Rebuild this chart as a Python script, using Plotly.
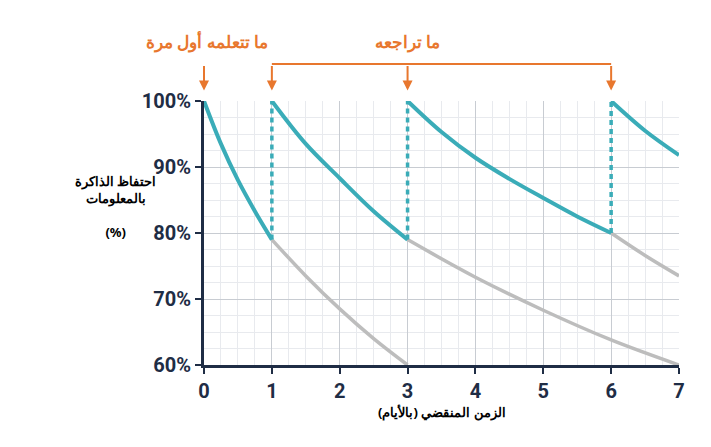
import plotly.graph_objects as go

teal = "#3aacb8"
gray = "#bdbdbd"
navy = "#1f2d45"
orange = "#e8772e"

# curve segments (days, retention %)
learn_x = [0, 0.25, 0.5, 0.75, 1]
learn_y = [100, 93.5, 88, 83.3, 79]
forget1_x = [1, 1.5, 2, 2.5, 3]
forget1_y = [79, 73.5, 68.5, 64, 60]
rev1_x = [1, 1.5, 2, 2.5, 3]
rev1_y = [100, 93.5, 88.3, 83.3, 79]
forget2_x = [3, 4, 5, 6, 7]
forget2_y = [79, 73.3, 68.3, 63.8, 60]
rev2_x = [3, 3.5, 4, 4.5, 5, 5.5, 6]
rev2_y = [100, 95.3, 91.4, 88.2, 85.3, 82.5, 80]
forget3_x = [6, 6.5, 7]
forget3_y = [80, 76.6, 73.5]
rev3_x = [6, 6.5, 7]
rev3_y = [100, 95.5, 91.8]
review_days = [1, 3, 6]
review_low = [79, 79, 80]
arrow_days = [0, 1, 3, 6]

fig = go.Figure()
for xs, ys in [(forget1_x, forget1_y), (forget2_x, forget2_y), (forget3_x, forget3_y)]:
    fig.add_trace(go.Scatter(x=xs, y=ys, mode="lines", line=dict(color=gray, width=3.5, shape="spline"), hoverinfo="skip"))
for d, lo in zip(review_days, review_low):
    fig.add_trace(go.Scatter(x=[d, d], y=[lo, 100], mode="lines", line=dict(color=teal, width=3.5, dash="5px,4px")))
for xs, ys in [(learn_x, learn_y), (rev1_x, rev1_y), (rev2_x, rev2_y), (rev3_x, rev3_y)]:
    fig.add_trace(go.Scatter(x=xs, y=ys, mode="lines", line=dict(color=teal, width=4, shape="spline")))

# arrows (x in data, y in paper)
for d in arrow_days:
    fig.add_annotation(x=d, y=1.04, xref="x", yref="paper", ax=0, ay=-26,
                       showarrow=True, arrowhead=2, arrowsize=1, arrowwidth=2, arrowcolor=orange, text="")
fig.add_shape(type="line", x0=1, x1=6, y0=1.14, y1=1.14, xref="x", yref="paper", line=dict(color=orange, width=2))
fig.add_annotation(x=0.05, y=1.225, xref="x", yref="paper", text="<b>ما تتعلمه أول مرة</b>", showarrow=False,
                   font=dict(color=orange, size=17, family="Noto Sans"), yanchor="middle")
fig.add_annotation(x=3, y=1.225, xref="x", yref="paper", text="<b>ما تراجعه</b>", showarrow=False,
                   font=dict(color=orange, size=17, family="Noto Sans"), yanchor="middle")

fig.add_annotation(xref="paper", yref="paper", x=-0.276, y=0.74, text="<b>احتفاظ الذاكرة<br>بالمعلومات<br><br>(%)</b>",
                   showarrow=False, font=dict(color="black", size=13, family="Noto Sans"), align="center")
fig.add_annotation(xref="paper", yref="paper", x=0.5, y=-0.22, text="<b>الزمن المنقضي (بالأيام)</b>",
                   showarrow=False, font=dict(color="black", size=13, family="Noto Sans"))

fig.update_layout(
    width=711, height=447, margin=dict(l=196, r=40, t=93, b=90),
    plot_bgcolor="white", paper_bgcolor="white", showlegend=False,
    xaxis=dict(range=[0, 7], dtick=1, showline=True, linecolor=navy, linewidth=3, automargin=False,
               ticks="outside", tickcolor=navy, ticklen=6, tickwidth=2,
               tickfont=dict(size=20, color=navy, family="Roboto"),
               gridcolor="#c8ccd2", gridwidth=1, zeroline=False,
               minor=dict(dtick=0.25, gridcolor="#e8eaee", showgrid=True)),
    yaxis=dict(range=[60, 100], dtick=10, showline=True, linecolor=navy, linewidth=3, automargin=False,
               ticks="outside", tickcolor=navy, ticklen=6, tickwidth=2,
               tickfont=dict(size=20, color=navy, family="Roboto"),
               gridcolor="#c8ccd2", gridwidth=1, zeroline=False,
               minor=dict(dtick=2.5, gridcolor="#e8eaee", showgrid=True)),
)
fig.update_xaxes(tickprefix="<b>", ticksuffix="</b>")
fig.update_yaxes(tickprefix="<b>", ticksuffix="%</b>")
for t in fig.data:
    t.cliponaxis = False
fig.write_html("out.html")
